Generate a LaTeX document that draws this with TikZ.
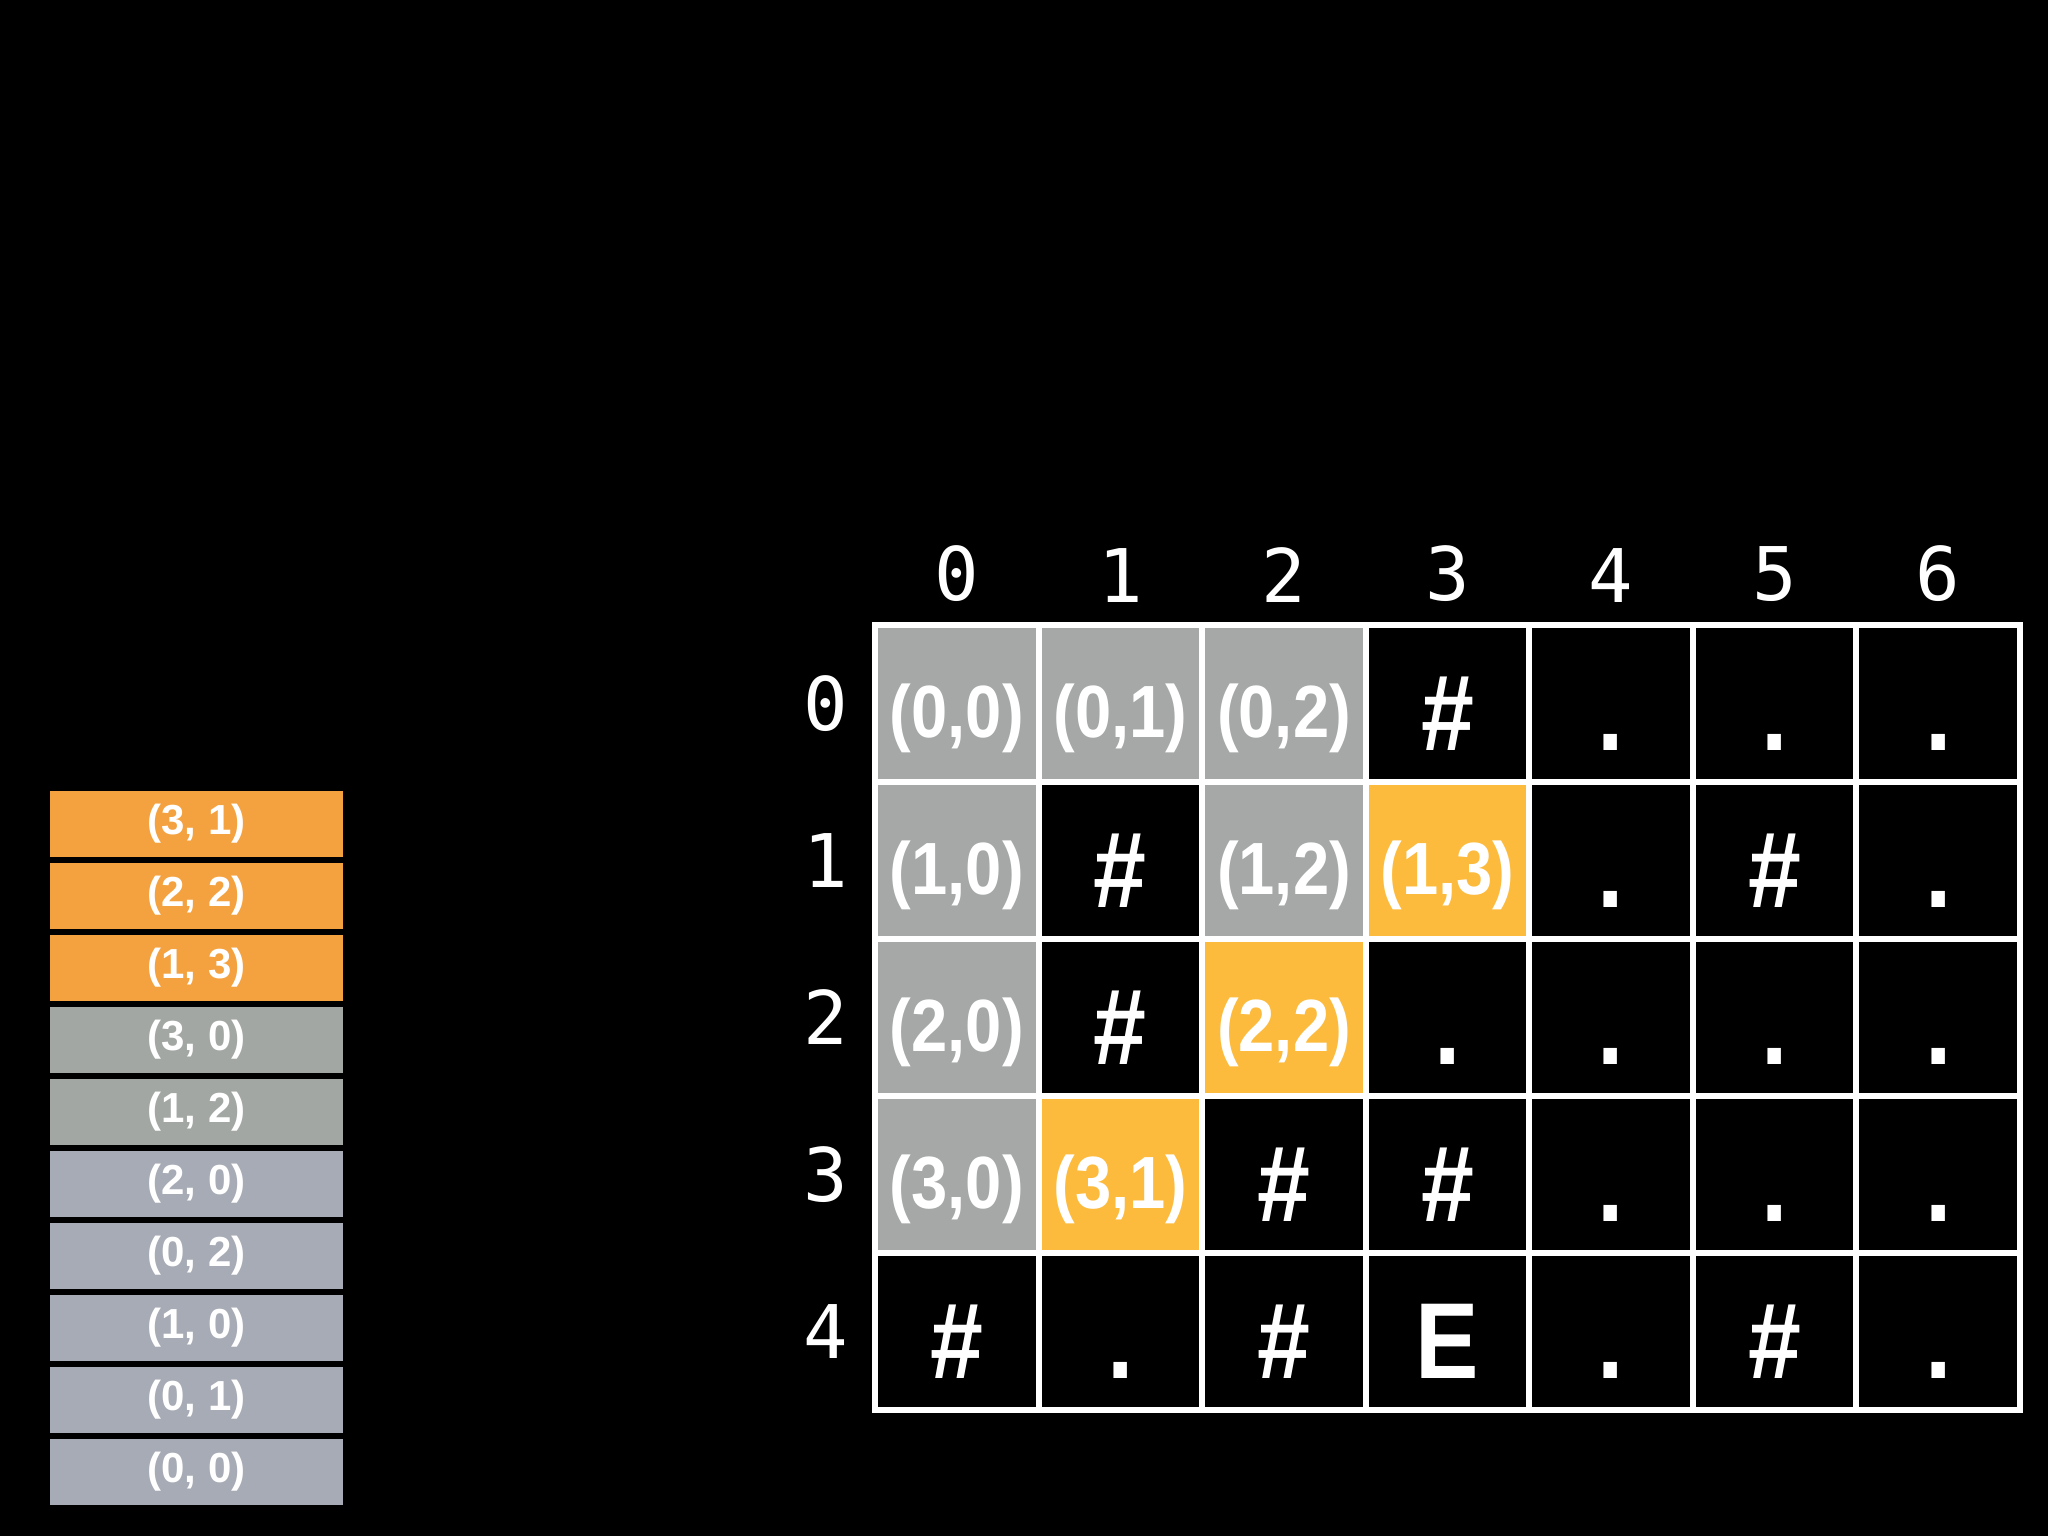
\documentclass[tikz,border=0pt]{standalone}
\usepackage{fontspec}
\setmainfont{Liberation Sans}
\newfontfamily\cellfont[FakeStretch=0.88]{Liberation Sans}
\newfontfamily\indexfont{DejaVu Sans Mono}
\usetikzlibrary{positioning}

\definecolor{gridgray}{HTML}{A5A8A7}
\definecolor{gridgold}{HTML}{FCBB3D}
\definecolor{qorange}{HTML}{F4A240}
\definecolor{qgray}{HTML}{A3A7A4}
\definecolor{qblue}{HTML}{A6ABB5}

\begin{document}
\begin{tikzpicture}[x=0.5pt, y=-0.5pt]
		\tikzset{
			cell/.style={rectangle, draw=white, line width=3pt, minimum width=81.8pt, minimum height=78.5pt, inner sep=0pt, text=white},
			coord/.style={cell, font=\cellfont\bfseries\fontsize{37}{37}\selectfont, text height=37pt, text depth=3pt},
			seen/.style={coord, fill=gridgray},
			frontier/.style={coord, fill=gridgold},
			symb/.style={cell, fill=black, font=\cellfont\bfseries\fontsize{54}{54}\selectfont, text height=51pt, text depth=4pt},
			wall/.style={symb},
			open/.style={symb},
			goal/.style={symb},
			idx/.style={inner sep=0pt, outer sep=0pt, text=white, font=\indexfont\fontsize{37}{37}\selectfont},
			slot/.style={rectangle, minimum width=146.5pt, minimum height=33pt, inner sep=0pt, outer sep=0pt, text=white, font=\bfseries\fontsize{21}{21}\selectfont},
			done/.style={slot, fill=qblue},
			held/.style={slot, fill=qgray},
			added/.style={slot, fill=qorange}
		}
		\fill[black] (0,0) rectangle (2048,1536);
		\useasboundingbox (0,0) rectangle (2048,1536);

		% the maze
		\foreach \sty/\txt [count=\j from 0] in {seen/{(0,0)},seen/{(0,1)},seen/{(0,2)},wall/\#,open/.,open/.,open/.}
			\node[\sty] (c-0-\j) at ({956.8+163.57*\j},703.5) {\txt};
		\foreach \sty/\txt [count=\j from 0] in {seen/{(1,0)},wall/\#,seen/{(1,2)},frontier/{(1,3)},open/.,wall/\#,open/.}
			\node[\sty] (c-1-\j) at ({956.8+163.57*\j},860.5) {\txt};
		\foreach \sty/\txt [count=\j from 0] in {seen/{(2,0)},wall/\#,frontier/{(2,2)},open/.,open/.,open/.,open/.}
			\node[\sty] (c-2-\j) at ({956.8+163.57*\j},1017.5) {\txt};
		\foreach \sty/\txt [count=\j from 0] in {seen/{(3,0)},frontier/{(3,1)},wall/\#,wall/\#,open/.,open/.,open/.}
			\node[\sty] (c-3-\j) at ({956.8+163.57*\j},1174.5) {\txt};
		\foreach \sty/\txt [count=\j from 0] in {wall/\#,open/.,wall/\#,goal/E,open/.,wall/\#,open/.}
			\node[\sty] (c-4-\j) at ({956.8+163.57*\j},1331.5) {\txt};

		\foreach \j in {0,...,6}
			\node[idx, above=10pt of c-0-\j] (col\j) {\j};
		\foreach \r in {0,...,4}
			\node[idx, left=12pt of c-\r-0] (row\r) {\r};

		% the queue
		\node[done] (q1) at (196.5,1472) {(0, 0)};
		\node[done, above=3pt of q1] (q2) {(0, 1)};
		\node[done, above=3pt of q2] (q3) {(1, 0)};
		\node[done, above=3pt of q3] (q4) {(0, 2)};
		\node[done, above=3pt of q4] (q5) {(2, 0)};
		\node[held, above=3pt of q5] (q6) {(1, 2)};
		\node[held, above=3pt of q6] (q7) {(3, 0)};
		\node[added, above=3pt of q7] (q8) {(1, 3)};
		\node[added, above=3pt of q8] (q9) {(2, 2)};
		\node[added, above=3pt of q9] (q10) {(3, 1)};
	\end{tikzpicture}
\end{document}
